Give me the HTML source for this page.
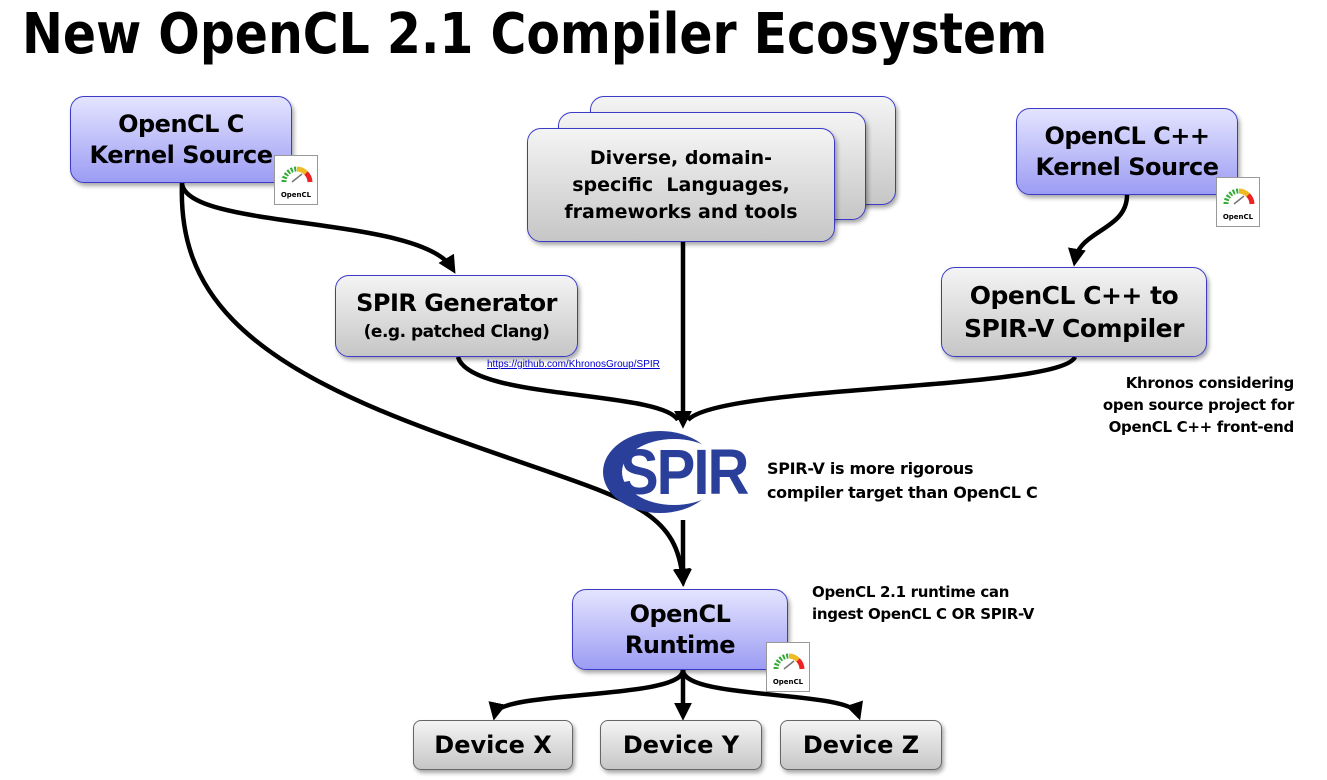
<!DOCTYPE html>
<html><head><meta charset="utf-8"><style>
body{margin:0;width:1327px;height:780px;background:#fff;position:relative;overflow:hidden;font-family:"DejaVu Sans","Liberation Sans",sans-serif;font-weight:bold;}
.t{position:absolute;left:22px;top:2px;font-size:56px;color:#000;transform:scaleX(0.873);transform-origin:left top;white-space:nowrap;}
.b{position:absolute;box-sizing:border-box;border:1.5px solid #3b3bc8;border-radius:14px;display:flex;align-items:center;justify-content:center;text-align:center;color:#000;box-shadow:2px 3px 4px rgba(0,0,0,.35);}
.blue{background:linear-gradient(#e4e4ff,#9c9cf4);font-size:24px;line-height:31px;letter-spacing:-0.5px;}
.gray{background:linear-gradient(#f4f4f4,#c6c6c6);}
.dev{border-color:#666;border-radius:8px;font-size:24px;}
.ic{position:absolute;width:44px;height:50px;background:#fff;border:1px solid #999;box-sizing:border-box;}
.ic span{position:absolute;bottom:5px;left:0;right:0;text-align:center;font-size:7px;}
.ic svg{position:absolute;left:6px;top:6px;}
.n{position:absolute;font-size:15px;line-height:22px;color:#000;letter-spacing:-0.3px;}
</style></head><body>
<div class="t">New OpenCL 2.1 Compiler Ecosystem</div>
<svg width="1327" height="780" style="position:absolute;left:0;top:0">
<defs><marker id="a" markerWidth="4" markerHeight="4" refX="2.5" refY="2" orient="auto"><path d="M0,0 L4,2 L0,4 z" fill="#000"/></marker></defs>
<g fill="none" stroke="#000" stroke-width="4.5">
<path d="M182,183 C185,230 420,215 452,268" marker-end="url(#a)"/>
<path d="M182,183 C178,290 240,360 430,430 S675,500 683,580" marker-end="url(#a)"/>
<path d="M683,242 L683,422" marker-end="url(#a)"/>
<path d="M458,357 C470,400 660,390 678,420"/>
<path d="M1075,357 C1060,390 720,385 688,420"/>
<path d="M1127,195 C1127,230 1080,230 1075,260" marker-end="url(#a)"/>
<path d="M683,520 L683,580" marker-end="url(#a)"/>
<path d="M683,670 C683,700 500,690 495,714" marker-end="url(#a)"/>
<path d="M683,670 L683,714" marker-end="url(#a)"/>
<path d="M683,670 C683,700 850,690 858,714" marker-end="url(#a)"/>
</g>
<ellipse cx="660" cy="472" rx="57" ry="41" fill="#2a3f9a"/>
<ellipse cx="674" cy="472" rx="52" ry="33" fill="#fff"/>
<text x="620" y="494" font-family="Liberation Sans" font-weight="bold" font-size="58" fill="#2a3f9a" letter-spacing="-2" transform="scale(1,1.1) translate(0,-45)">SPIR</text>
</svg>
<div class="b blue" style="left:70px;top:96px;width:222px;height:87px">OpenCL C<br>Kernel Source</div>
<div class="b gray" style="left:590px;top:96px;width:306px;height:109px"></div>
<div class="b gray" style="left:558px;top:112px;width:308px;height:108px"></div>
<div class="b gray" style="left:527px;top:128px;width:308px;height:114px;font-size:19px;line-height:27px">Diverse, domain-<br>specific &nbsp;Languages,<br>frameworks and tools</div>
<div class="b blue" style="left:1016px;top:108px;width:222px;height:87px">OpenCL C++<br>Kernel Source</div>
<div class="b gray" style="left:335px;top:275px;width:243px;height:82px;flex-direction:column;letter-spacing:-0.5px"><div style="font-size:24px;line-height:32px">SPIR Generator</div><div style="font-size:17px;line-height:26px">(e.g. patched Clang)</div></div>
<div style="position:absolute;left:487px;top:359px;font-size:10px;font-weight:normal;color:#00c;text-decoration:underline;font-family:'Liberation Sans',sans-serif">https://github.com/KhronosGroup/SPIR</div>
<div class="b gray" style="left:941px;top:267px;width:266px;height:90px;font-size:25px;line-height:33px;letter-spacing:-0.5px">OpenCL C++ to<br>SPIR-V Compiler</div>
<div class="n" style="right:33px;top:372px;text-align:right">Khronos considering<br>open source project for<br>OpenCL C++ front-end</div>
<div class="n" style="left:767px;top:457px;font-size:16px;line-height:24px">SPIR-V is more rigorous<br>compiler target than OpenCL C</div>
<div class="n" style="left:812px;top:581px">OpenCL 2.1 runtime can<br>ingest OpenCL C OR SPIR-V</div>
<div class="b blue" style="left:572px;top:589px;width:216px;height:81px">OpenCL<br>Runtime</div>
<div class="b gray dev" style="left:413px;top:720px;width:160px;height:50px">Device X</div>
<div class="b gray dev" style="left:600px;top:720px;width:162px;height:50px">Device Y</div>
<div class="b gray dev" style="left:780px;top:720px;width:162px;height:50px">Device Z</div>
<div class="ic" style="left:274px;top:155px"><svg width="32" height="22"><path d="M3,20 A13,13 0 0 1 16,7" stroke="#3a3" stroke-width="5" fill="none" stroke-dasharray="2 1.5"/><path d="M16,7 A13,13 0 0 1 25,11" stroke="#eb2" stroke-width="5" fill="none"/><path d="M25,11 A13,13 0 0 1 29,20" stroke="#e22" stroke-width="5" fill="none"/><line x1="11" y1="20" x2="21" y2="12" stroke="#777" stroke-width="1.5"/></svg><span>OpenCL</span></div>
<div class="ic" style="left:1216px;top:177px"><svg width="32" height="22"><path d="M3,20 A13,13 0 0 1 16,7" stroke="#3a3" stroke-width="5" fill="none" stroke-dasharray="2 1.5"/><path d="M16,7 A13,13 0 0 1 25,11" stroke="#eb2" stroke-width="5" fill="none"/><path d="M25,11 A13,13 0 0 1 29,20" stroke="#e22" stroke-width="5" fill="none"/><line x1="11" y1="20" x2="21" y2="12" stroke="#777" stroke-width="1.5"/></svg><span>OpenCL</span></div>
<div class="ic" style="left:766px;top:642px"><svg width="32" height="22"><path d="M3,20 A13,13 0 0 1 16,7" stroke="#3a3" stroke-width="5" fill="none" stroke-dasharray="2 1.5"/><path d="M16,7 A13,13 0 0 1 25,11" stroke="#eb2" stroke-width="5" fill="none"/><path d="M25,11 A13,13 0 0 1 29,20" stroke="#e22" stroke-width="5" fill="none"/><line x1="11" y1="20" x2="21" y2="12" stroke="#777" stroke-width="1.5"/></svg><span>OpenCL</span></div>
</body></html>
